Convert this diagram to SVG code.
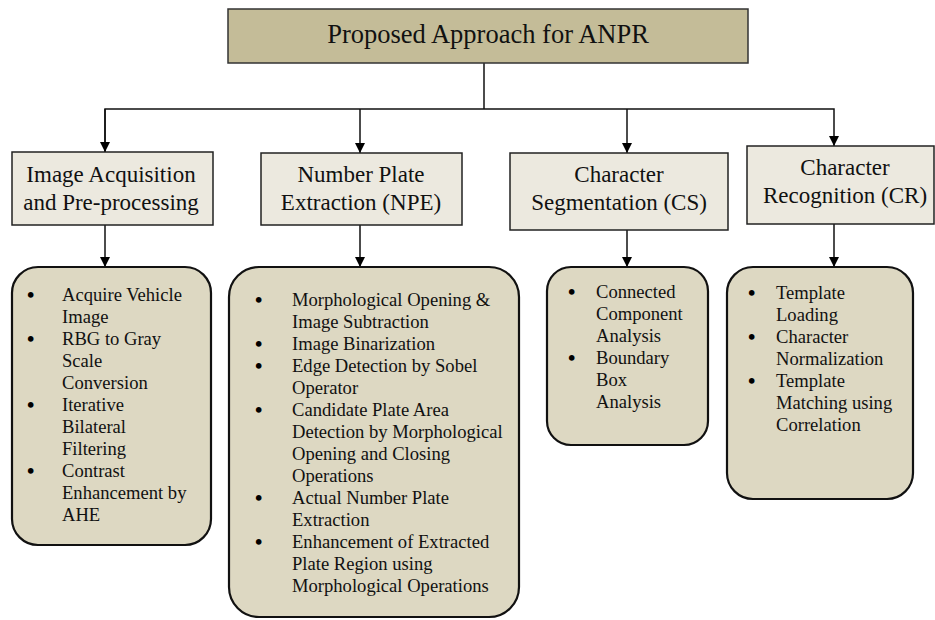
<svg xmlns="http://www.w3.org/2000/svg" width="935" height="620" viewBox="0 0 935 620">
<defs>
<marker id="arr" viewBox="0 0 10 10" refX="10" refY="5" markerWidth="10" markerHeight="10" markerUnits="userSpaceOnUse" orient="auto">
<path d="M0,0 L10,5 L0,10 Z" fill="#000"/>
</marker>
<style>
.title{font-family:"Liberation Serif","Times New Roman",serif;font-size:26.5px;fill:#111;text-anchor:middle}
.mid{font-family:"Liberation Serif","Times New Roman",serif;font-size:23px;fill:#111;text-anchor:middle}
.li{font-family:"Liberation Serif","Times New Roman",serif;font-size:18.6px;fill:#111}
.bu{font-family:"Liberation Serif","Times New Roman",serif;font-size:21px;font-weight:bold;fill:#000}
.box{fill:#ece9df;stroke:#222;stroke-width:1.5}
.rbox{fill:#ddd8c2;stroke:#111;stroke-width:2.2}
.con{fill:none;stroke:#111;stroke-width:1.5}
</style>
</defs>
<rect width="935" height="620" fill="#fff"/>
<g id="connectors">
<path class="con" d="M484,63 V109"/>
<path class="con" d="M105,152 V109 H834 V146" marker-end="url(#arr)"/>
<path class="con" d="M105,109 V152" marker-end="url(#arr)"/>
<path class="con" d="M360,109 V153" marker-end="url(#arr)"/>
<path class="con" d="M627,109 V153" marker-end="url(#arr)"/>
<path class="con" d="M105,225 V267" marker-end="url(#arr)"/>
<path class="con" d="M360,225 V267" marker-end="url(#arr)"/>
<path class="con" d="M627,230 V267" marker-end="url(#arr)"/>
<path class="con" d="M834,224 V267" marker-end="url(#arr)"/>
</g>
<g id="root">
<rect x="228" y="9" width="520" height="54" fill="#c4bc98" stroke="#333" stroke-width="1.5"/>
<text class="title" x="488" y="43">Proposed Approach for ANPR</text>
</g>
<g id="iap">
<rect class="box" x="12" y="152" width="201" height="73"/>
<text class="mid" x="111" y="182">Image Acquisition</text>
<text class="mid" x="111" y="210">and Pre-processing</text>
</g>
<g id="npe">
<rect class="box" x="261" y="153" width="201" height="72"/>
<text class="mid" x="361" y="182">Number Plate</text>
<text class="mid" x="361" y="210">Extraction (NPE)</text>
</g>
<g id="cs">
<rect class="box" x="510" y="153" width="218" height="77"/>
<text class="mid" x="619" y="182">Character</text>
<text class="mid" x="619" y="210">Segmentation (CS)</text>
</g>
<g id="cr">
<rect class="box" x="747" y="146" width="187" height="78"/>
<text class="mid" x="845" y="175">Character</text>
<text class="mid" x="845" y="203">Recognition (CR)</text>
</g>
<g id="iap-steps">
<rect class="rbox" x="12" y="267" width="199" height="278" rx="26"/>
<text class="bu" x="27" y="302">•</text><text class="li" x="62" y="301">Acquire Vehicle</text>
<text class="li" x="62" y="323">Image</text>
<text class="bu" x="27" y="346">•</text><text class="li" x="62" y="345">RBG to Gray</text>
<text class="li" x="62" y="367">Scale</text>
<text class="li" x="62" y="389">Conversion</text>
<text class="bu" x="27" y="412">•</text><text class="li" x="62" y="411">Iterative</text>
<text class="li" x="62" y="433">Bilateral</text>
<text class="li" x="62" y="455">Filtering</text>
<text class="bu" x="27" y="478">•</text><text class="li" x="62" y="477">Contrast</text>
<text class="li" x="62" y="499">Enhancement by</text>
<text class="li" x="62" y="521">AHE</text>
</g>
<g id="npe-steps">
<rect class="rbox" x="229" y="267" width="290" height="350" rx="30"/>
<text class="bu" x="255" y="307">•</text><text class="li" x="292" y="306">Morphological Opening &amp;</text>
<text class="li" x="292" y="328">Image Subtraction</text>
<text class="bu" x="255" y="351">•</text><text class="li" x="292" y="350">Image Binarization</text>
<text class="bu" x="255" y="373">•</text><text class="li" x="292" y="372">Edge Detection by Sobel</text>
<text class="li" x="292" y="394">Operator</text>
<text class="bu" x="255" y="417">•</text><text class="li" x="292" y="416">Candidate Plate Area</text>
<text class="li" x="292" y="438">Detection by Morphological</text>
<text class="li" x="292" y="460">Opening and Closing</text>
<text class="li" x="292" y="482">Operations</text>
<text class="bu" x="255" y="505">•</text><text class="li" x="292" y="504">Actual Number Plate</text>
<text class="li" x="292" y="526">Extraction</text>
<text class="bu" x="255" y="549">•</text><text class="li" x="292" y="548">Enhancement of Extracted</text>
<text class="li" x="292" y="570">Plate Region using</text>
<text class="li" x="292" y="592">Morphological Operations</text>
</g>
<g id="cs-steps">
<rect class="rbox" x="547" y="267" width="161" height="178" rx="24"/>
<text class="bu" x="568" y="299">•</text><text class="li" x="596" y="298">Connected</text>
<text class="li" x="596" y="320">Component</text>
<text class="li" x="596" y="342">Analysis</text>
<text class="bu" x="568" y="365">•</text><text class="li" x="596" y="364">Boundary</text>
<text class="li" x="596" y="386">Box</text>
<text class="li" x="596" y="408">Analysis</text>
</g>
<g id="cr-steps">
<rect class="rbox" x="727" y="267" width="186" height="232" rx="26"/>
<text class="bu" x="748" y="300">•</text><text class="li" x="776" y="299">Template</text>
<text class="li" x="776" y="321">Loading</text>
<text class="bu" x="748" y="344">•</text><text class="li" x="776" y="343">Character</text>
<text class="li" x="776" y="365">Normalization</text>
<text class="bu" x="748" y="388">•</text><text class="li" x="776" y="387">Template</text>
<text class="li" x="776" y="409">Matching using</text>
<text class="li" x="776" y="431">Correlation</text>
</g>
</svg>
